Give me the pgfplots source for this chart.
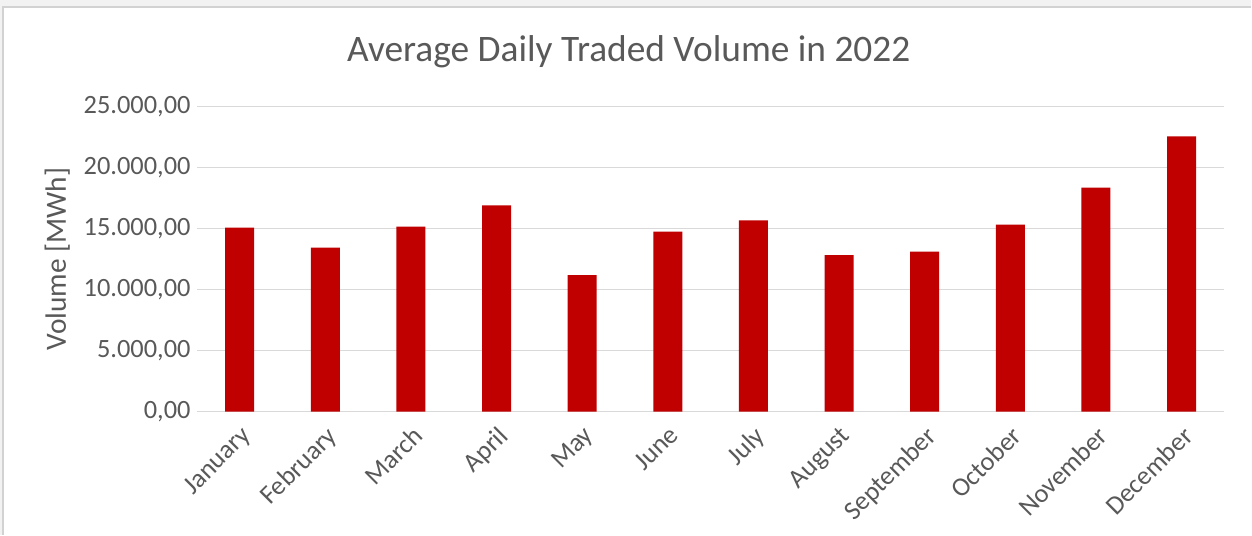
\documentclass[border=0pt]{standalone}
\usepackage{pgfplots}
\pgfplotsset{compat=1.18}
\usepackage{fontspec}
\setmainfont{Carlito}
\definecolor{barred}{HTML}{C00000}
\definecolor{txtgray}{HTML}{595959}
\definecolor{gridgray}{HTML}{D9D9D9}
\definecolor{framegray}{HTML}{F2F2F2}

\begin{document}
\begin{tikzpicture}
% chart frame
\fill[framegray] (0pt,0pt) rectangle (626pt,267.5pt);
\fill[white] (1.5pt,0pt) rectangle (626pt,264pt);
\draw[gray!35,line width=0.6pt] (1.5pt,0pt) -- (1.5pt,264pt) -- (626pt,264pt);
\useasboundingbox (0pt,0pt) rectangle (626pt,267.5pt);
\node[txtgray,font=\fontsize{18.7}{22}\selectfont] at (314.5pt,241.5pt) {Average Daily Traded Volume in 2022};
\begin{axis}[
  at={(98.5pt,61.65pt)}, anchor=south west,
  scale only axis, width=514pt, height=152.5pt,
  xmin=-0.5, xmax=11.5, ymin=0, ymax=25000,
  ybar, bar width=14.5pt,
  axis line style={draw=none},
  major tick length=0pt,
  ymajorgrids, grid style={gridgray,line width=0.8pt},
  xtick={0,...,11},
  xticklabels={January,February,March,April,May,June,July,August,September,October,November,December},
  xticklabel shift=5pt,
  xticklabel style={rotate=45,anchor=north east,inner sep=1pt,txtgray,font=\fontsize{13.2}{15}\selectfont},
  ytick={0,5000,10000,15000,20000,25000},
  scaled y ticks=false,
  yticklabel style={txtgray,inner sep=0pt,xshift=-3pt,font=\fontsize{13.2}{15}\selectfont,
    /pgf/number format/.cd,fixed,fixed zerofill,precision=2,use comma,1000 sep={.},assume math mode=true},
  ylabel={Volume [MWh]},
  ylabel style={at={(rel axis cs:-0.136,0.5)},anchor=center,txtgray,font=\fontsize{14.7}{17}\selectfont},
]
\addplot[fill=barred,draw=none] coordinates {
  (0,15082) (1,13443) (2,15164) (3,16913) (4,11175) (5,14754)
  (6,15683) (7,12814) (8,13115) (9,15328) (10,18361) (11,22568)
};
\end{axis}
\end{tikzpicture}
\end{document}
